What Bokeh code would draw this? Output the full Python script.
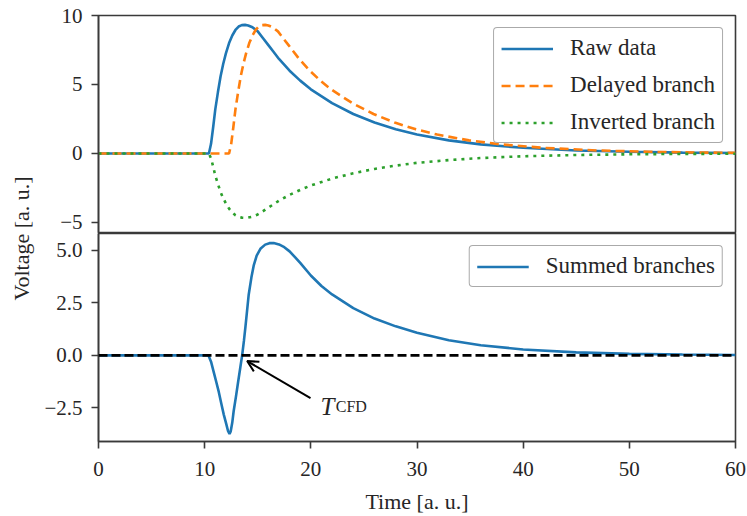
from math import pi

from bokeh.plotting import figure
from bokeh.models import (Range1d, FixedTicker, Legend, LegendItem, Span, Arrow,
                          OpenHead, Label)
from bokeh.layouts import row, column
from bokeh.embed import file_html
from bokeh.resources import INLINE

# ---------------- data ----------------
raw_time = [0, 10.4, 10.6, 10.8, 11.0, 11.25, 11.5, 11.75, 12.0, 12.3, 12.6, 12.9,
            13.2, 13.5, 13.8, 14.1, 14.5, 15.0, 15.5, 16.0, 16.5, 17.0, 18.0, 19.0,
            20.0, 22.0, 24.0, 26.0, 28.0, 30.0, 33.0, 36.0, 40.0, 45.0, 50.0, 55.0, 60.0]
raw_values = [0, 0, 0.7, 1.9, 3.2, 4.45, 5.6, 6.5, 7.25, 8.0, 8.55, 8.95,
              9.2, 9.3, 9.32, 9.28, 9.15, 8.85, 8.35, 7.85, 7.35, 6.85, 6.0, 5.28,
              4.65, 3.65, 2.86, 2.24, 1.75, 1.37, 0.95, 0.66, 0.41, 0.22, 0.12, 0.065, 0.035]

delayed_time = [0, 12.3, 12.5, 12.7, 12.9, 13.15, 13.4, 13.65, 13.9, 14.2, 14.5, 14.8,
                15.1, 15.4, 15.7, 16.0, 16.4, 16.9, 17.4, 17.9, 18.4, 18.9, 19.9, 20.9,
                21.9, 23.9, 25.9, 27.9, 29.9, 31.9, 34.9, 37.9, 41.9, 46.9, 51.9, 56.9, 60.0]
delayed_values = [0, 0, 0.7, 1.9, 3.2, 4.45, 5.6, 6.5, 7.25, 8.0, 8.55, 8.95,
                  9.2, 9.3, 9.32, 9.28, 9.15, 8.85, 8.35, 7.85, 7.35, 6.85, 6.0, 5.28,
                  4.65, 3.65, 2.86, 2.24, 1.75, 1.37, 0.95, 0.66, 0.41, 0.22, 0.12, 0.065, 0.045]

inverted_time = [0, 10.4, 10.6, 10.8, 11.0, 11.25, 11.5, 11.75, 12.0, 12.3, 12.6, 12.9,
                 13.2, 13.5, 13.8, 14.1, 14.5, 15.0, 15.5, 16.0, 16.5, 17.0, 18.0, 19.0,
                 20.0, 22.0, 24.0, 26.0, 28.0, 30.0, 33.0, 36.0, 40.0, 45.0, 50.0, 55.0, 60.0]
inverted_values = [0, 0, -0.35, -0.95, -1.6, -2.22, -2.8, -3.25, -3.62, -4.0, -4.28, -4.48,
                   -4.6, -4.65, -4.66, -4.64, -4.58, -4.42, -4.18, -3.92, -3.68, -3.42, -3.0, -2.64,
                   -2.32, -1.82, -1.43, -1.12, -0.88, -0.68, -0.48, -0.33, -0.2, -0.11, -0.06, -0.03, -0.02]

summed_time = [0, 10.35, 10.6, 10.86, 11.1, 11.33, 11.57, 11.8, 12.05, 12.2, 12.34, 12.45,
               12.6, 12.73, 12.95, 13.15, 13.35, 13.53, 13.7, 13.84, 14.0, 14.15, 14.4, 14.63,
               14.9, 15.25, 15.7, 16.1, 16.5, 17.0, 17.5, 18.0, 18.55, 19.0, 20.0, 21.0, 22.0,
               24.0, 26.0, 28.0, 30.0, 33.0, 36.0, 40.0, 45.0, 50.0, 55.0, 60.0]
summed_values = [0, 0, -0.3, -0.81, -1.28, -1.74, -2.3, -2.82, -3.3, -3.6, -3.74, -3.62,
                 -3.2, -2.66, -1.95, -1.27, -0.6, 0, 0.7, 1.36, 2.15, 2.9, 3.7, 4.3,
                 4.75, 5.07, 5.27, 5.34, 5.35, 5.28, 5.15, 4.95, 4.65, 4.4, 3.8, 3.3, 2.9,
                 2.25, 1.75, 1.38, 1.08, 0.72, 0.48, 0.28, 0.14, 0.07, 0.04, 0.02]

x_ticks = [0, 10, 20, 30, 40, 50, 60]
x_tick_labels = ["0", "10", "20", "30", "40", "50", "60"]
top_y_ticks = [-5, 0, 5, 10]
top_y_tick_labels = ["\u22125", "0", "5", "10"]
bottom_y_ticks = [-2.5, 0, 2.5, 5]
bottom_y_tick_labels = ["\u22122.5", "0.0", "2.5", "5.0"]

top_legend_labels = ["Raw data", "Delayed branch", "Inverted branch"]
bottom_legend_labels = ["Summed branches"]
x_label = "Time [a. u.]"
y_label = "Voltage [a. u.]"
annot_main = "T"
annot_sub = "CFD"

# annotation geometry (data units of the lower panel)
arrow_tail = (19.97, -2.04)
arrow_tip = (14.0, -0.27)
annot_pos = (20.9, -2.45)
annot_sub_x = 22.35

# ---------------- styling ----------------
FONT = "Liberation Serif"
TXT = "#262626"
SPINE = "#3a3a3a"
BLUE, ORANGE, GREEN = "#1f77b4", "#ff7f0e", "#2ca02c"
LW = 2.6

LABEL_W = 36
MAIN_W = 710
TOP_H = 233
BOT_H = 283
TOTAL_H = TOP_H + BOT_H

x_range = Range1d(0, 60)


def style_axis(ax, ticks, labels):
    ax.ticker = FixedTicker(ticks=ticks)
    ax.major_label_overrides = {t: l for t, l in zip(ticks, labels)}
    ax.minor_tick_line_color = None
    ax.major_tick_in = 0
    ax.major_tick_out = 7
    ax.major_tick_line_width = 1.6
    ax.major_tick_line_color = SPINE
    ax.axis_line_color = SPINE
    ax.axis_line_width = 1.6
    ax.major_label_text_font = FONT
    ax.major_label_text_font_size = "21px"
    ax.major_label_text_color = TXT


def style_legend(leg):
    leg.location = "top_right"
    leg.label_text_font = FONT
    leg.label_text_font_size = "23px"
    leg.label_text_color = TXT
    leg.glyph_width = 52
    leg.glyph_height = 25
    leg.label_height = 25
    leg.label_standoff = 17
    leg.spacing = 11
    leg.padding = 7
    leg.margin = 12
    leg.border_line_color = "#555555"
    leg.border_line_width = 1.6
    leg.background_fill_alpha = 0.9
    if "border_radius" in leg.properties():
        leg.border_radius = 4


# ---------------- upper panel ----------------
top = figure(width=MAIN_W, height=TOP_H, x_range=x_range, y_range=Range1d(-5.8, 10.0),
             output_backend="svg", toolbar_location=None, x_axis_location=None,
             min_border_left=62, min_border_right=11, min_border_top=15, min_border_bottom=0)
top.grid.visible = False
top.outline_line_color = SPINE
top.outline_line_width = 1.6
style_axis(top.yaxis[0], top_y_ticks, top_y_tick_labels)
top.yaxis.major_label_standoff = 9

r_raw = top.line(raw_time, raw_values, line_color=BLUE, line_width=LW)
r_del = top.line(delayed_time, delayed_values, line_color=ORANGE, line_width=LW,
                 line_dash="9 5")
r_inv = top.line(inverted_time, inverted_values, line_color=GREEN, line_width=LW,
                 line_dash="3 5")

leg_top = Legend(items=[LegendItem(label=top_legend_labels[0], renderers=[r_raw]),
                        LegendItem(label=top_legend_labels[1], renderers=[r_del]),
                        LegendItem(label=top_legend_labels[2], renderers=[r_inv])])
style_legend(leg_top)
top.add_layout(leg_top)

# ---------------- lower panel ----------------
bot = figure(width=MAIN_W, height=BOT_H, x_range=x_range, y_range=Range1d(-4.1, 5.8),
             output_backend="svg", toolbar_location=None,
             min_border_left=62, min_border_right=11, min_border_top=0, min_border_bottom=75)
bot.grid.visible = False
bot.outline_line_color = SPINE
bot.outline_line_width = 1.6
style_axis(bot.yaxis[0], bottom_y_ticks, bottom_y_tick_labels)
bot.yaxis.major_label_standoff = 9
style_axis(bot.xaxis[0], x_ticks, x_tick_labels)
bot.xaxis.major_label_standoff = 13
bot.xaxis.axis_label = x_label
bot.xaxis.axis_label_text_font = FONT
bot.xaxis.axis_label_text_font_size = "22px"
bot.xaxis.axis_label_text_font_style = "normal"
bot.xaxis.axis_label_text_color = TXT
bot.xaxis.axis_label_standoff = 10

r_sum = bot.line(summed_time, summed_values, line_color=BLUE, line_width=LW)
bot.add_layout(Span(location=0, dimension="width", line_color="black",
                    line_width=LW, line_dash="9 4"))

bot.add_layout(Arrow(end=OpenHead(size=11, line_width=2, line_color="black"),
                     x_start=arrow_tail[0], y_start=arrow_tail[1],
                     x_end=arrow_tip[0], y_end=arrow_tip[1],
                     line_width=2, line_color="black"))
bot.add_layout(Label(x=annot_pos[0], y=annot_pos[1], text=annot_main, text_font=FONT,
                     text_font_style="italic", text_font_size="25px",
                     text_baseline="alphabetic", text_align="left", text_color=TXT))
bot.add_layout(Label(x=annot_sub_x, y=annot_pos[1], text=annot_sub, text_font=FONT,
                     text_font_size="16px", text_baseline="alphabetic",
                     text_align="left", text_color=TXT))

leg_bot = Legend(items=[LegendItem(label=bottom_legend_labels[0], renderers=[r_sum])])
style_legend(leg_bot)
bot.add_layout(leg_bot)

# ---------------- shared y-axis label ----------------
lab = figure(width=LABEL_W, height=TOTAL_H, x_range=Range1d(0, LABEL_W),
             y_range=Range1d(0, TOTAL_H),
             output_backend="svg", toolbar_location=None, x_axis_location=None,
             y_axis_location=None, min_border=0, outline_line_color=None)
lab.grid.visible = False
lab.add_layout(Label(x=21, y=TOTAL_H - 238, text=y_label, angle=pi / 2,
                     text_font=FONT, text_font_size="22px", text_color=TXT,
                     text_align="center", text_baseline="middle"))

layout = row(lab, column(top, bot))

with open("out.html", "w") as f:
    f.write(file_html(layout, INLINE))
